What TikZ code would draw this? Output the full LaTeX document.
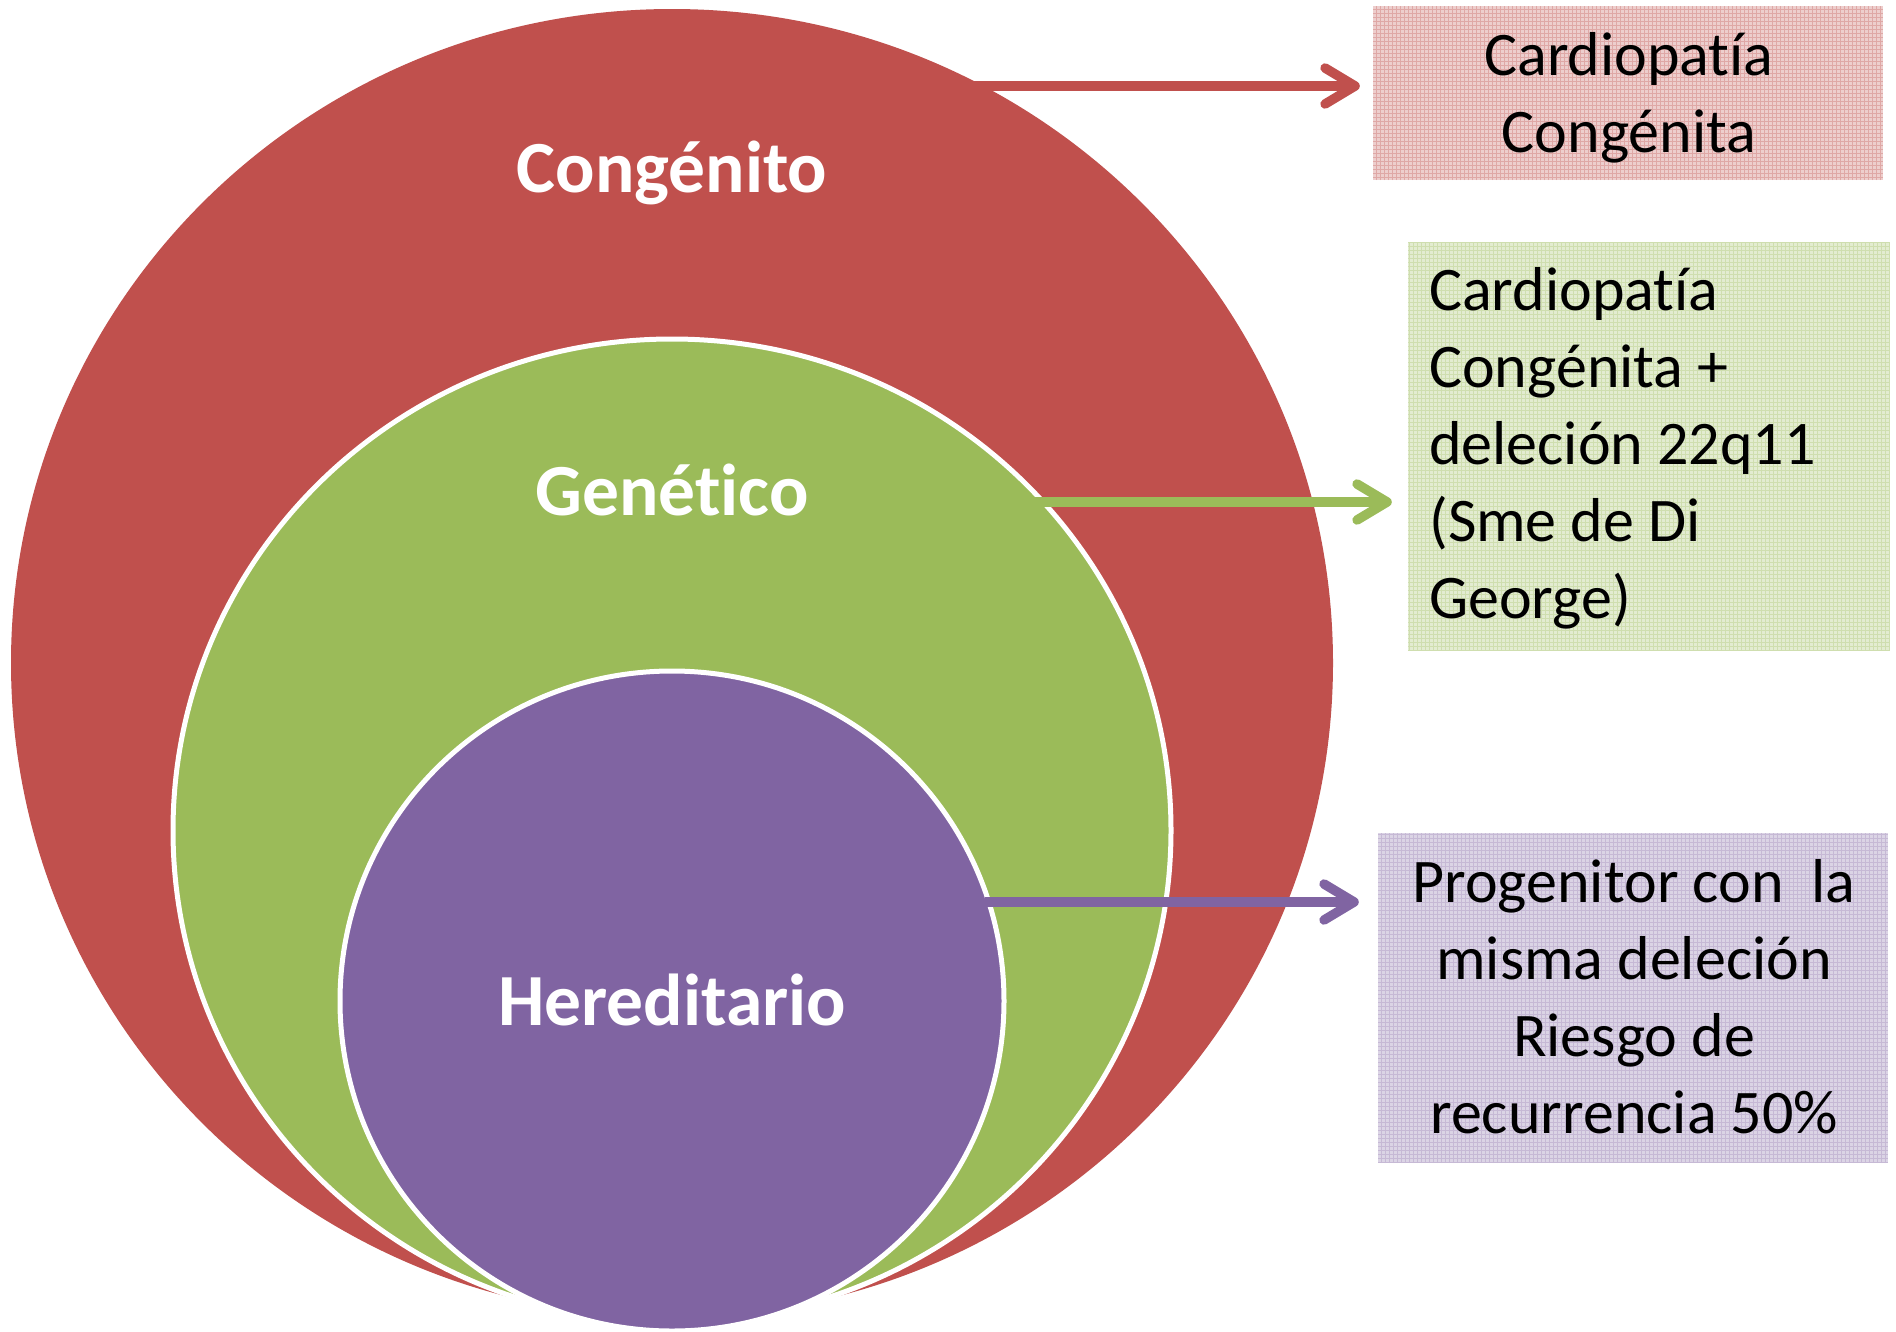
\documentclass[tikz,border=0pt]{standalone}
\usepackage{fontspec}
\setmainfont{Carlito}[Ligatures=CommonOff]
\usetikzlibrary{arrows.meta,shapes.geometric}
\definecolor{cred}{HTML}{C0504D}
\definecolor{cgreen}{HTML}{9BBB59}
\definecolor{cpurple}{HTML}{8064A2}
\begin{document}
\begin{tikzpicture}[x=1pt,y=-1pt,
  ring/.style={ellipse, inner sep=0pt, draw=white, line width=5pt},
  circlabel/.style={text=white, font=\fontsize{73.5}{88}\selectfont\bfseries, anchor=base, inner sep=0pt},
  boxtext/.style={font=\fontsize{62}{77}\selectfont, text=black, anchor=base, inner sep=0pt},
  boxfill/.style 2 args={rectangle, inner sep=0pt, fill=#1,
    path picture={\draw[#2, line width=0.7pt] (path picture bounding box.north west) grid[step=4pt] (path picture bounding box.south east);}},
  conn/.style={line width=9.5pt, -{Straight Barb[round,length=30pt,width=36pt]}},
  ]
\useasboundingbox (0,0) rectangle (1896,1331);
\fill[white] (0,0) rectangle (1896,1331);
% circles
\node[ring, draw=none, fill=cred, minimum width=1322pt, minimum height=1308pt] (cong) at (672,663) {};
\node[ring, fill=cgreen, minimum width=998pt, minimum height=983pt] (gen) at (672,830.5) {};
\node[ring, fill=cpurple, minimum width=664pt, minimum height=660pt] (her) at (672,1001) {};
\node[circlabel] (tcong) at (672,192) {Congénito};
\node[circlabel] (tgen) at (672,515) {Genético};
\node[circlabel] (ther) at (672,1025) {Hereditario};
% boxes
\node[boxfill={cred!28}{cred!50}, minimum width=510pt, minimum height=174pt] (b1) at (1628,93) {};
\node[boxfill={cgreen!28}{cgreen!48}, minimum width=482pt, minimum height=408pt] (b2) at (1649,446) {};
\node[boxfill={cpurple!28}{cpurple!45}, minimum width=510pt, minimum height=330pt] (b3) at (1633,998) {};
\node[boxtext, align=center] (t1) at (1629,152) {Cardiopatía\\Congénita};
\node[boxtext, align=left, anchor=base west] (t2) at (1429,618) {Cardiopatía\\Congénita +\\deleción 22q11\\(Sme de Di\\George)};
\node[boxtext, align=center] (t3) at (1634,1133) {Progenitor con\ \ la\\misma deleción\\Riesgo de\\recurrencia 50\%};
% connectors
\coordinate (a1) at (973,86);
\coordinate (a2) at (1033,502);
\coordinate (a3) at (985,902);
\draw[conn, cred, shorten >=13pt] (a1) -- (a1 -| b1.west);
\draw[conn, cgreen, shorten >=16pt] (a2) -- (a2 -| b2.west);
\draw[conn, cpurple, shorten >=19pt] (a3) -- (a3 -| b3.west);
\end{tikzpicture}
\end{document}
